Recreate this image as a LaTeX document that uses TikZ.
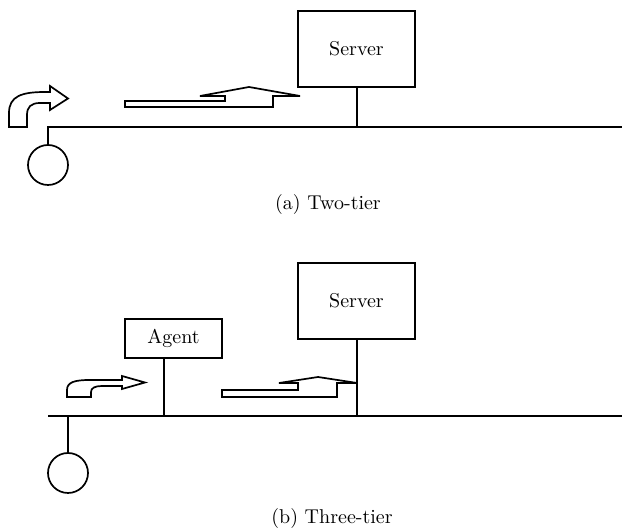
\documentclass[tikz,border=0pt]{standalone}
\begin{document}
\begin{tikzpicture}[x=0.5pt,y=-0.5pt,
  box/.style={draw,line width=0.95pt,inner sep=0pt,font=\normalsize},
  bus/.style={line width=0.9pt},
  station/.style={draw,circle,line width=0.85pt,minimum size=20pt,inner sep=0pt},
  flow/.style={draw,line width=0.85pt,line join=miter},
  caption/.style={font=\normalsize}]
\useasboundingbox (0,0) rectangle (622,528);

% ---------- (a) two-tier ----------
\node[box,minimum width=58.5pt,minimum height=38pt] (serverA) at (356.5,49) {Server};
\node[station] (clientA) at (48,165) {};
\coordinate (busAleft) at (48,127);
\coordinate (busAright) at (622,127);
\coordinate (tapA) at (357,127);
\draw[bus] (busAright) -- (busAleft) -- (clientA.north);
\draw[bus] (serverA.south -| tapA) -- (tapA);

% request arrow bending to the right
\draw[flow] (9,127) -- (9,113) .. controls (9,96) and (22,92) .. (45,92)
  -- (50,92) -- (50,86) -- (68,98.5) -- (50,110) -- (50,103) -- (40,103)
  .. controls (31,103) and (27,107) .. (27,115) -- (27,127) -- cycle;

% flat L-shaped arrow towards the server
\draw[flow] (125,101) -- (225,101) -- (225,96) -- (200,96) -- (249,87)
  -- (300,96) -- (273,96) -- (273,107) -- (125,107) -- cycle;

\node[caption] (capA) at (328,205) {(a) Two-tier};

% ---------- (b) three-tier ----------
\node[box,minimum width=58.5pt,minimum height=38pt] (serverB) at (356.5,301) {Server};
\node[box,minimum width=48.5pt,minimum height=19.5pt] (agent) at (173.5,338.5) {Agent};
\node[station] (clientB) at (68,473) {};
\coordinate (busBleft) at (48,416);
\coordinate (busBright) at (622,416);
\coordinate (tapAgent) at (164,416);
\coordinate (tapB) at (357,416);
\draw[bus] (busBleft) -- (busBright);
\draw[bus] (clientB.north |- busBleft) -- (clientB.north);
\draw[bus] (agent.south -| tapAgent) -- (tapAgent);
\draw[bus] (serverB.south -| tapB) -- (tapB);

% request arrow towards the agent
\draw[flow] (67,397) -- (67,390) .. controls (67,382) and (75,380) .. (90,380)
  -- (122,380) -- (122,376) -- (145,382.5) -- (122,389) -- (122,386) -- (102,386)
  .. controls (95,386) and (91,388) .. (91,392) -- (91,397) -- cycle;

% flat L-shaped arrow from agent towards the server
\draw[flow] (222,390) -- (298,390) -- (298,383) -- (279,383) -- (318,377)
  -- (357,383) -- (337,383) -- (337,397) -- (222,397) -- cycle;

\node[caption] (capB) at (332,519) {(b) Three-tier};
\end{tikzpicture}
\end{document}
